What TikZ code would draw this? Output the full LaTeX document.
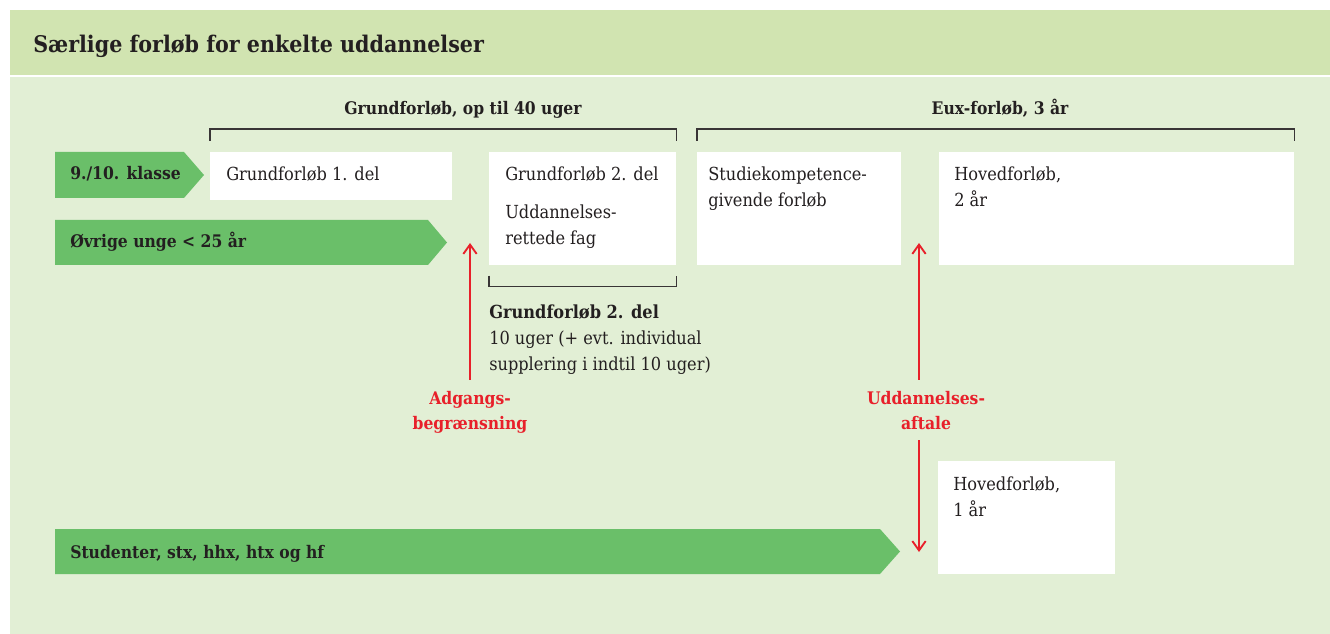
\documentclass[tikz,border=0pt]{standalone}
\usepackage{fontspec}
\setmainfont{DejaVu Serif Condensed}[BoldFont={DejaVu Serif Condensed Bold}]
\usepackage{tikz}
\usetikzlibrary{calc,arrows.meta}

\definecolor{headgreen}{HTML}{D1E4B1}
\definecolor{bodygreen}{HTML}{E2EFD5}
\definecolor{flowgreen}{HTML}{6ABF69}
\definecolor{alertred}{HTML}{E8202A}
\definecolor{inkdark}{HTML}{231F20}

\tikzset{
  whitebox/.style={fill=white, inner sep=0pt, anchor=north west},
  boxtext/.style={anchor=base west, inner sep=0pt, text=inkdark, align=left,
    font=\fontsize{13.5}{19.5}\selectfont},
  flowtext/.style={anchor=base west, inner sep=0pt, text=inkdark,
    font=\bfseries\fontsize{13}{19.5}\selectfont},
  headtext/.style={anchor=base, inner sep=0pt, text=inkdark,
    font=\bfseries\fontsize{13}{19.5}\selectfont},
  titletext/.style={anchor=base west, inner sep=0pt, text=inkdark,
    font=\bfseries\fontsize{17.2}{20}\selectfont},
  redtext/.style={anchor=base, align=center, inner xsep=0pt, inner ysep=8pt,
    text=alertred, font=\bfseries\fontsize{13}{18.75}\selectfont},
  redarrow/.style={->, draw=alertred, line width=1.4pt},
  bracket/.style={draw=inkdark!90, line width=1.1pt},
  >={Straight Barb[length=7pt,width=10pt]},
}

\begin{document}
\begin{tikzpicture}[x=0.75pt,y=-0.75pt]
    \useasboundingbox (0,0) rectangle (1330,634);
    \fill[headgreen] (10,10) rectangle (1330,75); % Header
    \fill[bodygreen] (10,77) rectangle (1330,634); % Body
    \node[titletext] (title) at (33,53) {Særlige forløb for enkelte uddannelser};

    % Boxes (sizes in px, 1px = 0.75pt)
    \node[whitebox, minimum width=242*0.75pt, minimum height=48*0.75pt] (del1) at (210,152) {};
    \node[whitebox, minimum width=187*0.75pt, minimum height=113*0.75pt] (del2) at (489,152) {};
    \node[whitebox, minimum width=204*0.75pt, minimum height=113*0.75pt] (studie) at (697,152) {};
    \node[whitebox, minimum width=355*0.75pt, minimum height=113*0.75pt] (hoved2) at (939,152) {};
    \node[whitebox, minimum width=177*0.75pt, minimum height=113*0.75pt] (hoved1) at (938,461) {};

    % multi-line texts sit on their last baseline
    \node[boxtext] (del1txt) at ($(del1.north west)+(16,29)$) {Grundforløb 1. del};
    \node[boxtext] (del2txt) at ($(del2.north west)+(16,29)$) {Grundforløb 2. del};
    \node[boxtext] (fagtxt) at ($(del2.north west)+(16,93)$) {Uddannelses-\\rettede fag};
    \node[boxtext] (studietxt) at ($(studie.north west)+(11,55)$) {Studiekompetence-\\givende forløb};
    \node[boxtext] (hoved2txt) at ($(hoved2.north west)+(15,55)$) {Hovedforløb,\\2 år};
    \node[boxtext] (hoved1txt) at ($(hoved1.north west)+(15,55)$) {Hovedforløb,\\1 år};

    % Green flows
    \fill[flowgreen] (55,152) -- (184,152) -- (204,175) -- (184,198) -- (55,198) -- cycle;
    \node[flowtext] (klasse) at (70,180) {9./10. klasse};
    \fill[flowgreen] (55,220) -- (428,220) -- (447,242.5) -- (428,265) -- (55,265) -- cycle;
    \node[flowtext] (ovrige) at (70,248) {Øvrige unge < 25 år};
    \fill[flowgreen] (55,529) -- (880,529) -- (900,551.5) -- (880,574) -- (55,574) -- cycle;
    \node[flowtext] (student) at (70,558) {Studenter, stx, hhx, htx og hf};

    % Brackets
    \node[headtext] (grundhead) at (463,115) {Grundforløb, op til 40 uger};
    \draw[bracket] ($(del1.north west)+(0,-11)$) -- ++(0,-12) -| ($(del2.north east)+(0,-11)$);
    \node[headtext] (euxhead) at (1000,115) {Eux-forløb, 3 år};
    \draw[bracket] ($(studie.north west)+(0,-11)$) -- ++(0,-12) -| ($(hoved2.north east)+(0,-11)$);
    \draw[bracket] ($(del2.south west)+(0,10)$) -- ++(0,11) -| ($(del2.south east)+(0,10)$);

    \node[boxtext] (del2note) at (489,370) {\textbf{Grundforløb 2. del}\\10 uger (+ evt. individual\\supplering i indtil 10 uger)};

    % Red arrows
    \coordinate (adgtip) at (470,243);
    \node[redtext] (adgang) at (470,429) {Adgangs-\\begrænsning};
    \draw[redarrow] (adgang.north -| adgtip) -- (adgtip);
    \coordinate (uddtip) at (919,243);
    \coordinate (uddend) at (919,552);
    \node[redtext] (aftale) at (926,429) {Uddannelses-\\aftale};
    \draw[redarrow] (aftale.north -| uddtip) -- (uddtip);
    \draw[redarrow] (aftale.south -| uddend) -- (uddend);
\end{tikzpicture}
\end{document}
